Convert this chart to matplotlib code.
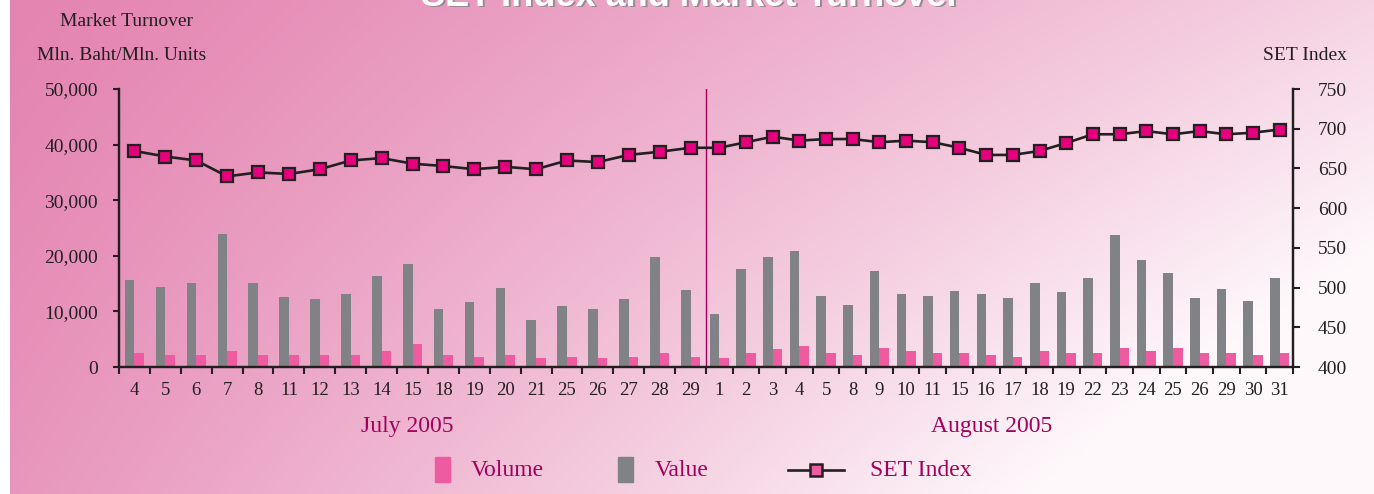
import numpy as np
import matplotlib
matplotlib.use("Agg")
import matplotlib.pyplot as plt
from matplotlib.patches import Rectangle
from matplotlib.lines import Line2D
from matplotlib.colors import to_rgb
from matplotlib.ticker import FuncFormatter

# data
days_jul = ['4', '5', '6', '7', '8', '11', '12', '13', '14', '15', '18', '19', '20', '21',
            '25', '26', '27', '28', '29']
days_aug = ['1', '2', '3', '4', '5', '8', '9', '10', '11', '15', '16', '17', '18', '19',
            '22', '23', '24', '25', '26', '29', '30', '31']

value_jul = [15600, 14400, 15100, 23900, 15100, 12600, 12200, 13100, 16400, 18600, 10400,
             11700, 14200, 8400, 11000, 10400, 12200, 19800, 13900]
value_aug = [9500, 17700, 19700, 20900, 12800, 11200, 17300, 13100, 12800, 13700, 13100,
             12400, 15100, 13500, 16000, 23800, 19300, 16900, 12400, 14000, 11900, 16000]

volume_jul = [2500, 2100, 2100, 2800, 2100, 2100, 2100, 2100, 2800, 4100, 2100, 1750, 2100,
              1550, 1750, 1550, 1750, 2500, 1750]
volume_aug = [1550, 2500, 3200, 3700, 2500, 2100, 3400, 2800, 2500, 2500, 2100, 1750, 2800,
              2500, 2500, 3400, 2800, 3400, 2500, 2500, 2100, 2500]

set_jul = [672, 665, 660, 640, 645, 643, 649, 660, 663, 656, 653, 649, 652, 649, 660, 658,
           667, 671, 676]
set_aug = [676, 683, 690, 685, 687, 687, 683, 685, 683, 676, 667, 667, 672, 682, 693, 693,
           697, 693, 697, 693, 695, 699]

month_labels = ['July 2005', 'August 2005']

# colours
INK = '#231F20'
GRAY = '#818286'
PINK = '#EF5BA1'
MAGENTA = '#E6007E'
PLUM = '#A3005C'

serif = ['Liberation Serif', 'DejaVu Serif']
plt.rcParams['font.family'] = serif

W, H = 1374, 494
fig = plt.figure(figsize=(W / 100, H / 100), dpi=100, facecolor='white')

# pink gradient backdrop
bg = fig.add_axes([10 / W, 0, 1 - 10 / W, 1])
gx, gy = np.meshgrid(np.linspace(0, 1, 300), np.linspace(0, 1, 120))
t = np.clip(0.72 * gx + 0.2 * gy + 0.35 * gx * gy, 0, 1) ** 1.15
c0 = np.array(to_rgb('#E484B1'))
c1 = np.array(to_rgb('#FEF8FB'))
img = c0[None, None, :] * (1 - t[..., None]) + c1[None, None, :] * t[..., None]
bg.imshow(img, aspect='auto', extent=[0, 1, 1, 0], interpolation='bilinear')
bg.set_axis_off()

# title, mostly cut off by the top edge as in the source
fig.text(691 / W + 0.001, 1 - 7 / H, 'SET Index and Market Turnover', ha='center', va='baseline',
         fontsize=26, fontweight='bold', color='#9a8a90', family=['Liberation Sans', 'DejaVu Sans'])
fig.text(691 / W, 1 - 6 / H, 'SET Index and Market Turnover', ha='center', va='baseline',
         fontsize=26, fontweight='bold', color='white', family=['Liberation Sans', 'DejaVu Sans'])

left, right, top, bottom = 119, 1293, 89, 367
ax = fig.add_axes([left / W, 1 - bottom / H, (right - left) / W, (bottom - top) / H])
ax.patch.set_alpha(0)

n_jul, n_aug = len(days_jul), len(days_aug)
x_jul = (np.arange(n_jul) + 0.5) / n_jul
x_aug = 1 + (np.arange(n_aug) + 0.5) / n_aug
xs = np.concatenate([x_jul, x_aug])
values = value_jul + value_aug
volumes = volume_jul + volume_aug
set_idx = set_jul + set_aug

bw = 9.6 / ((right - left) / 2)
ax.bar(xs - bw / 2, values, width=bw, color=GRAY, zorder=2)
ax.bar(xs + bw / 2, volumes, width=bw, color=PINK, zorder=2)
ax.axvline(1, color=PLUM, lw=1, zorder=1)

ax.set_xlim(0, 2)
ax.set_ylim(0, 50000)
ax.set_yticks(np.arange(0, 50001, 10000))
ax.yaxis.set_major_formatter(FuncFormatter(lambda v, p: f'{int(v):,}'))

edges = np.concatenate([np.arange(n_jul + 1) / n_jul, 1 + np.arange(1, n_aug + 1) / n_aug])
ax.set_xticks(edges, minor=True)
ax.set_xticks(xs)
ax.set_xticklabels(days_jul + days_aug)
ax.tick_params(axis='x', which='major', length=0, pad=11, labelsize=13.5, labelcolor=INK)
ax.tick_params(axis='x', which='minor', direction='out', length=5, width=1.5, color=INK)
ax.tick_params(axis='y', direction='out', length=4, width=1.5, color=INK, pad=11,
               labelsize=14, labelcolor=INK)

ax2 = ax.twinx()
ax2.plot(xs, set_idx, color=INK, lw=1.9, marker='s', markersize=8,
         markerfacecolor=MAGENTA, markeredgecolor=INK, markeredgewidth=1.6, zorder=3)
ax2.set_ylim(400, 750)
ax2.set_yticks(np.arange(400, 751, 50))
ax2.tick_params(axis='y', direction='out', length=5, width=1.5, color=INK, pad=13,
                labelsize=14, labelcolor=INK)

for a in (ax, ax2):
    a.spines['top'].set_visible(False)
    for s in ('left', 'right', 'bottom'):
        a.spines[s].set_linewidth(1.6)
        a.spines[s].set_color(INK)

# axis titles
fig.text(126 / W, 1 - 22 / H, 'Market Turnover', ha='center', va='center', fontsize=14, color=INK)
fig.text(122 / W, 1 - 55 / H, 'Mln. Baht/Mln. Units', ha='center', va='center', fontsize=14, color=INK)
fig.text(1305 / W, 1 - 55 / H, 'SET Index', ha='center', va='center', fontsize=14, color=INK)

# month captions
fig.text(407 / W, 1 - 426 / H, month_labels[0], ha='center', va='center', fontsize=17, color=PLUM)
fig.text(992 / W, 1 - 426 / H, month_labels[1], ha='center', va='center', fontsize=17, color=PLUM)

# legend
ly = 1 - 470 / H
fig.patches.append(Rectangle((435 / W, 1 - 482 / H), 15 / W, 25 / H, color=PINK,
                             transform=fig.transFigure, figure=fig))
fig.text(471 / W, ly, 'Volume', ha='left', va='center', fontsize=17, color=PLUM)
fig.patches.append(Rectangle((618 / W, 1 - 482 / H), 15 / W, 25 / H, color=GRAY,
                             transform=fig.transFigure, figure=fig))
fig.text(655 / W, ly, 'Value', ha='left', va='center', fontsize=17, color=PLUM)
fig.lines.append(Line2D([788 / W, 844 / W], [ly, ly], color=INK, lw=1.9,
                        transform=fig.transFigure, figure=fig))
fig.lines.append(Line2D([816 / W], [ly], marker='s', markersize=9, markerfacecolor=PINK,
                        markeredgecolor=INK, markeredgewidth=1.8, linestyle='none',
                        transform=fig.transFigure, figure=fig))
fig.text(870 / W, ly, 'SET Index', ha='left', va='center', fontsize=17, color=PLUM)

fig.savefig('out.png', dpi=100)
